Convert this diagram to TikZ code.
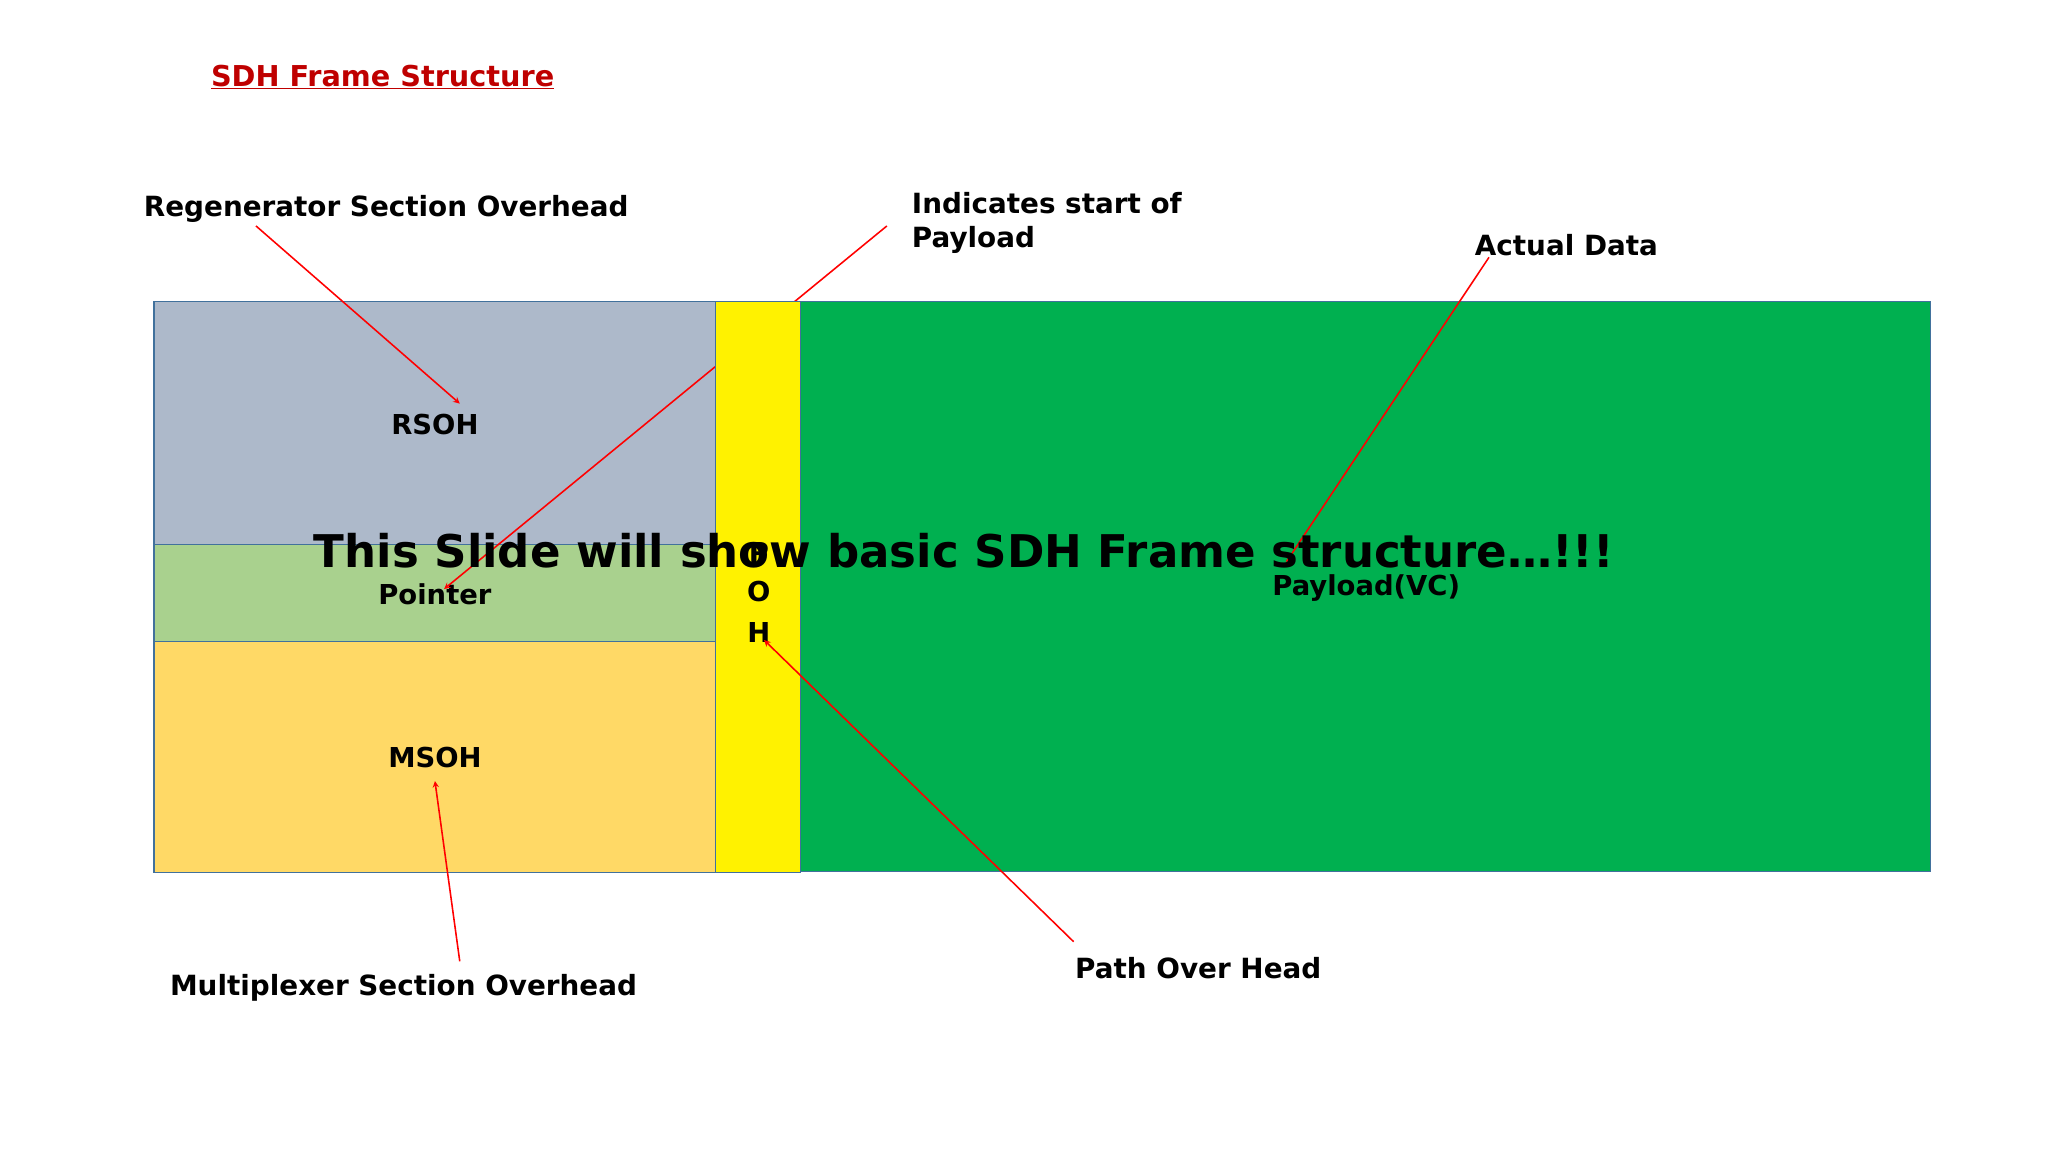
\documentclass[tikz,border=0pt]{standalone}
\usepackage{fontspec}
\setmainfont{DejaVu Sans}
\begin{document}
\begin{tikzpicture}[x=1pt,y=-1pt,
  box/.style={draw={rgb,255:red,65;green,113;blue,156},line width=1pt},
  lbl/.style={font=\bfseries\fontsize{21.3}{26}\selectfont,anchor=west,inner sep=0},
  inlbl/.style={font=\bfseries\fontsize{21}{26}\selectfont,inner sep=0},
  arr/.style={red,line width=1.2pt,-stealth}]
\useasboundingbox[fill=white] (0,0) rectangle (1568,882);
\node[font=\bfseries\fontsize{22}{26}\selectfont,text=red!75!black] (title) at (293,59) {\underline{SDH Frame Structure}};
\fill[box,fill={rgb,255:red,173;green,185;blue,202}] (118,231) rectangle (548,417);
\fill[box,fill={rgb,255:red,169;green,209;blue,142}] (118,417) rectangle (548,491);
\fill[box,fill={rgb,255:red,255;green,217;blue,102}] (118,491) rectangle (548,668);
\fill[box,fill={rgb,255:red,0;green,176;blue,80}] (613,231) rectangle (1478,667);
\node[inlbl] (rsoh) at (333,325) {RSOH};
\node[inlbl] (ptr) at (333,455) {Pointer};
\node[inlbl] (msoh) at (333,580) {MSOH};
\node[inlbl] (pay) at (1046,450) {Payload(VC)};
\node[lbl] (isp) at (698,171) {\begin{tabular}{@{}l@{}}Indicates start of\\Payload\end{tabular}};
\coordinate (a2s) at (679,173);
\coordinate (a2e) at (340,451);
\draw[arr] (a2s) -- (a2e);
\fill[box,fill=yellow] (548,231) rectangle (613,668);
\node[inlbl] (p1) at (581,423) {P};
\node[inlbl] (p2) at (581,453) {O};
\node[inlbl] (p3) at (581,484) {H};
\node[lbl] (rso) at (110,160) {Regenerator Section Overhead};
\node[lbl] (ad) at (1129,188) {Actual Data};
\node[lbl] (mso) at (130,756) {Multiplexer Section Overhead};
\node[lbl] (poh) at (823,741) {Path Over Head};
\coordinate (a1s) at (196,173); \coordinate (a1e) at (352,309);
\coordinate (a3s) at (1140,197); \coordinate (a3e) at (985,430);
\coordinate (a4s) at (822,721); \coordinate (a4e) at (585,490);
\coordinate (a5s) at (352,736); \coordinate (a5e) at (333,598);
\draw[arr] (a1s) -- (a1e);
\draw[red,line width=1.2pt] (a3s) -- (a3e);
\draw[arr] (a4s) -- (a4e);
\draw[arr] (a5s) -- (a5e);
\node[font=\bfseries\fontsize{34.5}{40}\selectfont,inner sep=0] (big) at (738,422) {This Slide will show basic SDH Frame structure…!!!};
\end{tikzpicture}
\end{document}
